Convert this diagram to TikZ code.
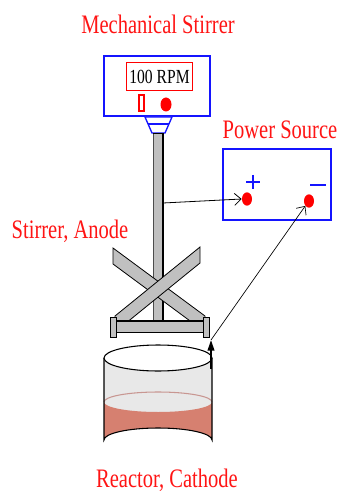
\documentclass[tikz,border=0pt]{standalone}
\usepackage{fontspec}
\setmainfont{Liberation Serif}
\usetikzlibrary{arrows.meta,shapes.geometric}
\definecolor{labelred}{RGB}{255,20,20}
\definecolor{boxblue}{RGB}{20,20,255}
\definecolor{steel}{RGB}{192,192,192}
\definecolor{glass}{RGB}{232,232,232}
\definecolor{liquid}{RGB}{214,128,112}
\definecolor{liquidtop}{RGB}{200,150,145}
\tikzset{
  lbl/.style={text=labelred, font=\fontsize{20}{20}\selectfont, xscale=0.77, inner sep=0pt},
  bluebox/.style={draw=boxblue, line width=1.6pt, fill=white},
  term/.style={ellipse, fill=red, draw=none, minimum width=7.5pt, minimum height=10pt, inner sep=0pt},
  part/.style={draw=black, line width=0.6pt, fill=steel},
  wire/.style={draw=black, line width=0.6pt, -{Straight Barb[length=5pt,width=9pt]}},
}
\begin{document}
\begin{tikzpicture}[x=0.75pt,y=-0.75pt]
\useasboundingbox (0,0) rectangle (341,491);

% labels
\node[lbl] (tstir) at (158,24) {Mechanical Stirrer};
\node[lbl] (tpow) at (280,130) {Power Source};
\node[lbl] (tanode) at (70,231) {Stirrer, Anode};
\node[lbl] (tcath) at (167,480) {Reactor, Cathode};

% motor housing
\draw[bluebox] (104,56) rectangle (210,116);
\node[draw=red, line width=0.8pt, minimum width=50pt, minimum height=21pt, inner sep=0pt,
      font=\fontsize{15}{15}\selectfont] (rpm) at (159.5,76.5) {\scalebox{0.78}[1]{100 RPM}};
\draw[red, line width=0.8pt] (139,95) rectangle (144,111);
\fill[red] (166,104.5) ellipse (5.5 and 7);

% coupling below the housing
\draw[boxblue, line width=1pt, fill=white] (145,117) -- (172,117) -- (165,133) -- (152,133) -- cycle;
\draw[boxblue, line width=0.8pt] (148,124) -- (169,124);

% shaft
\fill[steel] (153,133) rectangle (163,322);
\draw[gray!60!black, line width=0.6pt] (153,133) -- (153,322);
\draw[black, line width=1.1pt] (163,133) -- (163,322);
\draw[black, line width=0.6pt] (153,133) -- (163,133);

% crossed blades with vertically cut ends
\draw[part] (113,248) -- (205,316) -- (205,332) -- (113,264) -- cycle;
\draw[part] (200,247) -- (115,316) -- (115,332) -- (200,263) -- cycle;

% cross bar and end tabs
\draw[part] (112,321) rectangle (207,332);
\draw[black, line width=1.3pt] (115,321) -- (204,321);
\draw[part] (110,317) rectangle (116,337);
\draw[part] (203,317) rectangle (209,337);

% reactor vessel
\fill[glass] (104,358) -- (104,440) arc[start angle=180, end angle=360, x radius=54, y radius=12] -- (212,358) -- cycle;
\fill[liquid] (104,402) -- (104,440) arc[start angle=180, end angle=360, x radius=54, y radius=12] -- (212,402) arc[start angle=0, end angle=180, x radius=54, y radius=10] -- cycle;
\draw[liquidtop, line width=0.8pt] (104,402) arc[start angle=180, end angle=360, x radius=54, y radius=10];
\draw[black, line width=0.8pt] (104,358) -- (104,440) arc[start angle=180, end angle=360, x radius=54, y radius=12] -- (212,358);
\draw[black, line width=0.8pt, fill=white] (158,358) ellipse (54 and 13);

% power supply
\draw[bluebox] (223,149) rectangle (331,220);
\draw[boxblue, line width=2pt] (246,182) -- (260,182) (253,175) -- (253,189);
\draw[boxblue, line width=2pt] (310,185) -- (326,185);
\node[term] (plus) at (247,199) {};
\node[term] (minus) at (309,201) {};

% connections
\coordinate (shafttap) at (163,203);
\coordinate (rim) at (211,369);
\coordinate (lead) at (211,340);
\draw[wire] (shafttap) -- (plus.west);
\draw[black, line width=1.4pt, -{Triangle[length=8pt,width=5pt]}] (rim) -- (lead);
\draw[wire, line width=0.5pt] (lead) -- (minus.south west);
\end{tikzpicture}
\end{document}
